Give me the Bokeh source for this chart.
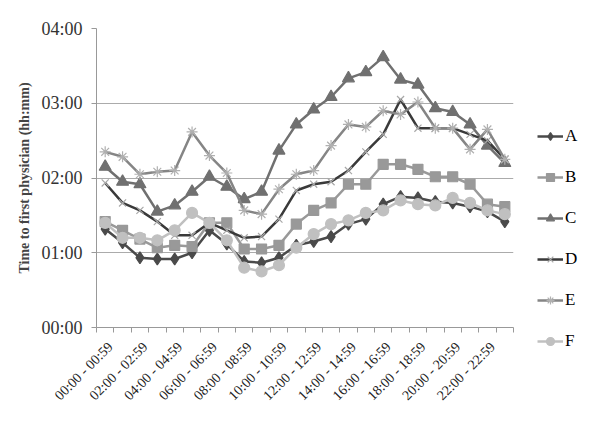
import numpy as np
from bokeh.plotting import figure
from bokeh.models import FixedTicker, Legend, LegendItem, Range1d
from bokeh.embed import file_html
from bokeh.resources import INLINE

hours = [f"{h:02d}:00 - {h:02d}:59" for h in range(24)]
y_ticks = [0, 60, 120, 180, 240]
y_tick_labels = ["00:00", "01:00", "02:00", "03:00", "04:00"]

# minutes
A = [79, 68, 56, 55, 55, 60, 78, 67, 53, 52, 56, 66, 69, 73, 83, 87, 99, 105, 104, 101, 100, 97, 93, 85]
B = [85, 78, 71, 64, 66, 65, 84, 84, 63, 63, 66, 83, 94, 100, 115, 115, 131, 131, 127, 121, 121, 115, 99, 97]
C = [129, 117, 115, 93, 98, 109, 121, 113, 103, 109, 142, 163, 175, 185, 200, 205, 217, 199, 195, 176, 173, 163, 146, 132]
D = [116, 100, 94, 85, 74, 74, 84, 78, 72, 73, 87, 110, 115, 117, 126, 141, 155, 183, 160, 160, 160, 155, 150, 135]
E = [141, 137, 123, 125, 126, 157, 138, 124, 94, 91, 111, 123, 126, 146, 163, 161, 174, 171, 181, 160, 160, 143, 159, 135]
F = [84, 72, 72, 70, 78, 92, 84, 70, 48, 45, 50, 64, 75, 83, 86, 92, 94, 102, 99, 98, 104, 100, 94, 91]

series = [
    ("A", A, "#4a4a4a", "#4a4a4a", "diamond", 12),
    ("B", B, "#999999", "#999999", "square", 10),
    ("C", C, "#707070", "#707070", "triangle", 12),
    ("D", D, "#3a3a3a", "#a8a8a8", "x", 10),
    ("E", E, "#858585", "#b0b0b0", "asterisk", 11),
    ("F", F, "#c0c0c0", "#c0c0c0", "circle", 11),
]

x = np.arange(len(hours)) + 0.5

p = figure(frame_width=417, frame_height=299, output_backend="svg", toolbar_location=None,
           x_range=Range1d(0, len(hours)), y_range=Range1d(0, 240),
           min_border_left=96, min_border_right=71, min_border_top=28, min_border_bottom=84)
p.outline_line_color = None
p.background_fill_color = "white"

items = []
for name, vals, lc, mc, mk, sz in series:
    r1 = p.line(x, vals, line_color=lc, line_width=2.5)
    r2 = p.scatter(x, vals, marker=mk, size=sz, fill_color=mc, line_color=mc, line_width=1.2)
    items.append(LegendItem(label=name, renderers=[r1, r2]))

legend = Legend(items=items, location="top_left", orientation="vertical")
legend.glyph_width = 26
legend.glyph_height = 20
legend.label_height = 20
legend.spacing = 21
legend.padding = 0
legend.margin = 24
legend.label_standoff = 2
legend.border_line_alpha = 0
legend.background_fill_alpha = 0
legend.label_text_font = "Liberation Serif"
legend.label_text_font_size = "17px"
legend.label_text_color = "#000000"
legend.title = " "
legend.title_text_font_size = "10px"
legend.title_standoff = 63
p.add_layout(legend, "right")

# x axis (label anchors nudged slightly right of the category centre)
label_pos = [float(v) + 0.3 for v in x[::2]]
p.xaxis.ticker = FixedTicker(ticks=label_pos, minor_ticks=list(range(len(hours) + 1)))
p.xaxis.major_label_overrides = {lp: hours[i * 2] for i, lp in enumerate(label_pos)}
p.xaxis.major_label_orientation = np.pi / 4
p.xaxis.major_label_standoff = 12
p.xaxis.major_tick_out = 0
p.xaxis.major_tick_in = 0
p.xaxis.minor_tick_out = 5
p.xaxis.minor_tick_in = 0
p.xaxis.minor_tick_line_color = "#999999"
p.xaxis.axis_line_color = "#999999"
p.xaxis.major_label_text_font = "Liberation Serif"
p.xaxis.major_label_text_font_size = "14px"
p.xaxis.major_label_text_color = "#222222"
p.xgrid.visible = False

# y axis
p.yaxis.ticker = FixedTicker(ticks=y_ticks, minor_ticks=[])
p.yaxis.major_label_overrides = {t: l for t, l in zip(y_ticks, y_tick_labels)}
p.yaxis.major_tick_out = 5
p.yaxis.major_tick_in = 0
p.yaxis.major_label_standoff = 9
p.yaxis.major_tick_line_color = "#999999"
p.yaxis.axis_line_color = "#999999"
p.yaxis.major_label_text_font = "Liberation Serif"
p.yaxis.major_label_text_font_size = "18px"
p.yaxis.major_label_text_color = "#333333"
p.yaxis.axis_label = "Time to first physician (hh:mm)"
p.yaxis.axis_label_text_font = "Liberation Serif"
p.yaxis.axis_label_text_font_style = "bold"
p.yaxis.axis_label_text_font_size = "14px"
p.yaxis.axis_label_standoff = 6
p.ygrid.grid_line_color = "#ababab"
p.ygrid.grid_line_width = 1

open("out.html", "w").write(file_html(p, INLINE))
